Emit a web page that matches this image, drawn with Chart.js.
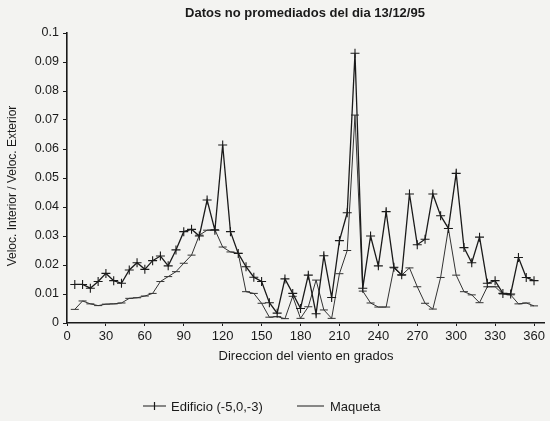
<!DOCTYPE html>
<html>
<head>
<meta charset="utf-8">
<script src="https://cdn.jsdelivr.net/npm/chart.js@4.4.0/dist/chart.umd.min.js"></script>
<style>
  html, body { margin: 0; padding: 0; background: #f3f3f1; }
  canvas { display: block; }
</style>
</head>
<body>
<canvas id="chart" width="550" height="421"></canvas>
<script>
// wind direction, degrees (one reading every 6 degrees)
const angulos = [
    6, 12, 18, 24, 30, 36, 42, 48, 54, 60,
    66, 72, 78, 84, 90, 96, 102, 108, 114, 120,
    126, 132, 138, 144, 150, 156, 162, 168, 174, 180,
    186, 192, 198, 204, 210, 216, 222, 228, 234, 240,
    246, 252, 258, 264, 270, 276, 282, 288, 294, 300,
    306, 312, 318, 324, 330, 336, 342, 348, 354, 360
];

const edificio = [
    0.0133, 0.0133, 0.0120, 0.0143, 0.0171, 0.0146, 0.0137, 0.0183, 0.0208, 0.0185,
    0.0215, 0.0231, 0.0197, 0.0252, 0.0315, 0.0323, 0.0300, 0.0424, 0.0320, 0.0614,
    0.0315, 0.0240, 0.0194, 0.0158, 0.0143, 0.0070, 0.0034, 0.0152, 0.0102, 0.0050,
    0.0165, 0.0032, 0.0232, 0.0088, 0.0284, 0.0380, 0.0930, 0.0120, 0.0300, 0.0197,
    0.0384, 0.0192, 0.0166, 0.0445, 0.0270, 0.0289, 0.0445, 0.0370, 0.0326, 0.0516,
    0.0260, 0.0208, 0.0296, 0.0137, 0.0146, 0.0102, 0.0100, 0.0226, 0.0157, 0.0146
];

const maqueta = [
    0.0047, 0.0076, 0.0066, 0.0060, 0.0065, 0.0066, 0.0069, 0.0085, 0.0087, 0.0093,
    0.0102, 0.0143, 0.0160, 0.0177, 0.0206, 0.0234, 0.0303, 0.0320, 0.0322, 0.0262,
    0.0245, 0.0240, 0.0108, 0.0102, 0.0068, 0.0020, 0.0022, 0.0015, 0.0092, 0.0016,
    0.0056, 0.0148, 0.0045, 0.0016, 0.0170, 0.0250, 0.0717, 0.0110, 0.0069, 0.0055,
    0.0055, 0.0190, 0.0165, 0.0190, 0.0125, 0.0068, 0.0048, 0.0157, 0.0326, 0.0165,
    0.0108, 0.0097, 0.0070, 0.0125, 0.0125, 0.0100, 0.0097, 0.0066, 0.0069, 0.0059
];

const xTicks = [0, 30, 60, 90, 120, 150, 180, 210, 240, 270, 300, 330, 360];
const yTicks = [0, 0.01, 0.02, 0.03, 0.04, 0.05, 0.06, 0.07, 0.08, 0.09, 0.1];

const titulo = 'Datos no promediados del dia 13/12/95';
const tituloX = 'Direccion del viento en grados';
const tituloY = 'Veloc. Interior / Veloc. Exterior';
const nombres = ['Edificio (-5,0,-3)', 'Maqueta'];

const INK = '#1a1a1a';
const FONT = '"Liberation Sans", Arial, sans-serif';

// titles and the line+marker legend are drawn by hand
const textos = {
    id: 'textos',
    afterDraw(chart) {
        const ctx = chart.ctx;
        ctx.save();
        ctx.fillStyle = INK;
        ctx.strokeStyle = INK;

        ctx.font = 'bold 13px ' + FONT;
        ctx.textAlign = 'center';
        ctx.textBaseline = 'middle';
        ctx.fillText(titulo, 305, 13);

        ctx.font = '13px ' + FONT;
        ctx.fillText(tituloX, 306, 356);

        ctx.save();
        ctx.translate(13, 186);
        ctx.rotate(-Math.PI / 2);
        ctx.font = '12px ' + FONT;
        ctx.fillText(tituloY, 0, 0);
        ctx.restore();

        // legend
        const ly = 406;
        ctx.font = '13px ' + FONT;
        ctx.textAlign = 'left';
        ctx.lineWidth = 1.2;
        ctx.beginPath();
        ctx.moveTo(143, ly); ctx.lineTo(166, ly);
        ctx.moveTo(154.5, ly - 4); ctx.lineTo(154.5, ly + 4);
        ctx.stroke();
        ctx.fillText(nombres[0], 171, ly + 1);

        ctx.lineWidth = 1;
        ctx.beginPath();
        ctx.moveTo(297, ly); ctx.lineTo(324, ly);
        ctx.stroke();
        ctx.fillText(nombres[1], 330, ly + 1);
        ctx.restore();
    }
};

new Chart(document.getElementById('chart'), {
    type: 'line',
    data: {
        datasets: [
            {
                label: nombres[0],
                data: angulos.map((a, i) => ({ x: a, y: edificio[i] })),
                borderColor: INK,
                borderWidth: 1.3,
                pointStyle: 'cross',
                pointRadius: 4.5,
                pointBorderColor: INK,
                pointBorderWidth: 1.1,
                tension: 0
            },
            {
                label: nombres[1],
                data: angulos.map((a, i) => ({ x: a, y: maqueta[i] })),
                borderColor: '#333',
                borderWidth: 1,
                pointStyle: 'line',
                pointRadius: 4,
                pointBorderColor: '#333',
                pointBorderWidth: 1,
                tension: 0
            }
        ]
    },
    options: {
        responsive: false,
        animation: false,
        layout: { padding: { top: 33, right: 3, left: 0, bottom: 0 } },
        plugins: {
            legend: { display: false },
            title: { display: false },
            tooltip: { enabled: false }
        },
        scales: {
            x: {
                type: 'linear',
                min: 0,
                max: 368,
                afterBuildTicks: s => { s.ticks = xTicks.map(v => ({ value: v })); },
                afterFit: s => { s.height = 98; },
                border: { color: INK, width: 1.6 },
                grid: { drawOnChartArea: false, color: INK, tickLength: 3 },
                ticks: {
                    color: INK,
                    font: { family: FONT, size: 13 },
                    padding: 3,
                    maxRotation: 0
                }
            },
            y: {
                min: 0,
                max: 0.1,
                afterBuildTicks: s => { s.ticks = yTicks.map(v => ({ value: v })); },
                afterFit: s => { s.width = 67; },
                border: { color: INK, width: 1.6 },
                grid: { drawOnChartArea: false, color: INK, tickLength: 4 },
                ticks: {
                    color: INK,
                    font: { family: FONT, size: 12.5 },
                    padding: 4,
                    callback: v => String(Math.round(v * 100) / 100)
                }
            }
        }
    },
    plugins: [textos]
});
</script>
</body>
</html>
